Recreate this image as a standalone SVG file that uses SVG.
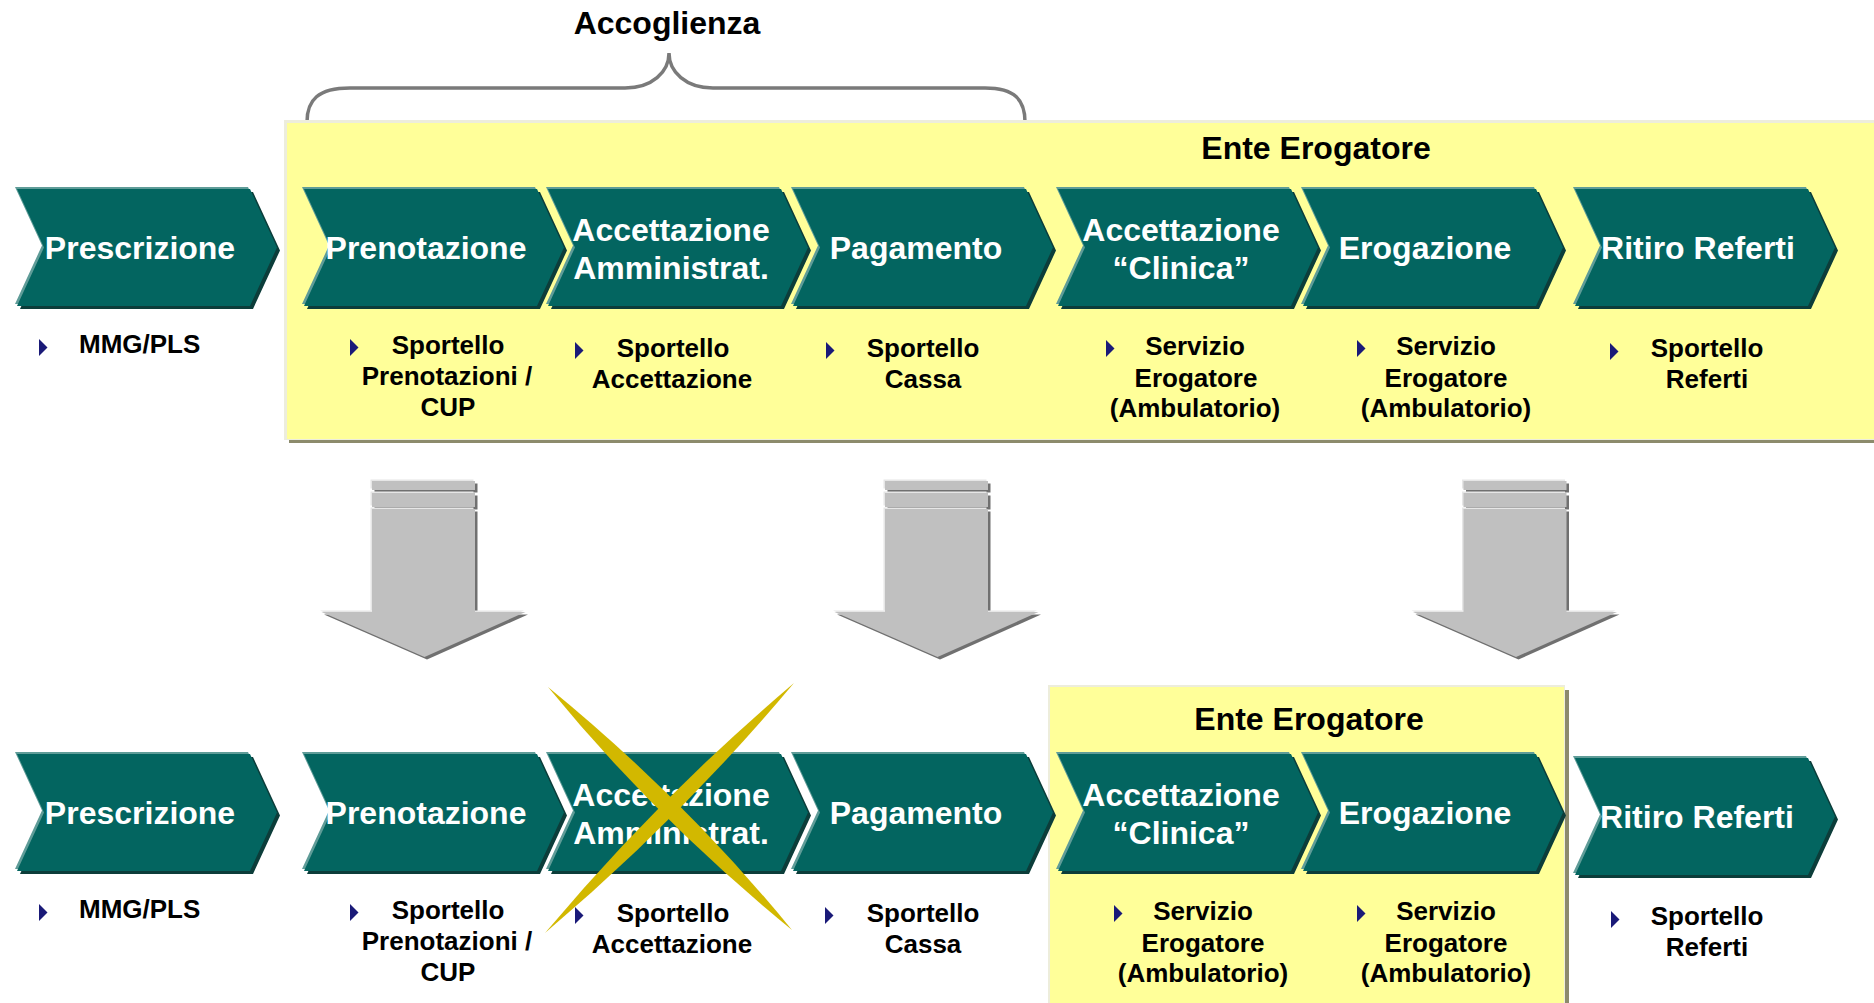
<svg xmlns="http://www.w3.org/2000/svg" xmlns:xlink="http://www.w3.org/1999/xlink" width="1874" height="1003" viewBox="0 0 1874 1003">
<style>
.h{font-family:"Liberation Sans",Arial,sans-serif;font-weight:bold;font-size:32px;fill:#000;text-anchor:middle}
.cl{font-family:"Liberation Sans",Arial,sans-serif;font-weight:bold;font-size:32px;fill:#fff;text-anchor:middle}
.sl{font-family:"Liberation Sans",Arial,sans-serif;font-weight:bold;font-size:26px;fill:#000;text-anchor:middle}
.bul{fill:#1A1A78}
.ybox{fill:#FFFF99}
.yedge{fill:#EDEDDC}
.yshadow{fill:#8C8B6C}
.brace{fill:none;stroke:#7A7A7A;stroke-width:3.5}
.xmark{fill:#D2B800}
</style>
<defs>
<path id="cp" d="M0,0 H233 L260,58.5 L233,117 H0 L27,58.5 Z"/>
<g id="chev">
<use xlink:href="#cp" href="#cp" x="3" y="3" fill="#0C3D3A"/>
<use xlink:href="#cp" href="#cp" x="-2" y="-2" fill="#5F9C98"/>
<use xlink:href="#cp" href="#cp" fill="#036560"/>
</g>
<polygon id="bt" points="0,-15 8.5,-6.5 0,2"/>
<g id="ap">
<rect x="-51.5" y="0" width="103" height="9"/>
<rect x="-51.5" y="12" width="103" height="14"/>
<rect x="-51.5" y="28" width="103" height="103"/>
<polygon points="-102,131 102,131 1,176"/>
</g>
<g id="arr">
<use xlink:href="#ap" href="#ap" x="2.5" y="2.5" fill="#707070"/>
<use xlink:href="#ap" href="#ap" x="-1.5" y="-1.5" fill="#E6E6E6"/>
<use xlink:href="#ap" href="#ap" fill="#C0C0C0"/>
</g>
</defs>
<rect width="1874" height="1003" fill="#fff"/>

<g id="accoglienza">
<path class="brace" d="M307,122 C307,100 318,88 350,88 L625,88 C652,88 669,72 669,53 C669,72 686,88 713,88 L985,88 C1015,88 1025,100 1025,122"/>
<text class="h" x="667" y="34">Accoglienza</text>
</g>

<g id="ente-top">
<rect class="yshadow" x="289" y="124" width="1590" height="319"/>
<rect class="yedge" x="284" y="120" width="1590" height="320"/>
<rect class="ybox" x="287" y="123" width="1587" height="316"/>
<text class="h" x="1316" y="159">Ente Erogatore</text>
</g>

<g id="ente-bottom">
<rect class="yshadow" x="1053" y="690" width="516" height="320"/>
<rect class="yedge" x="1048" y="685" width="517" height="320"/>
<rect class="ybox" x="1050" y="687" width="514" height="320"/>
<text class="h" x="1309" y="730">Ente Erogatore</text>
</g>

<g id="t-prescrizione">
<use xlink:href="#chev" href="#chev" x="17" y="189"/>
<text class="cl" x="140" y="259">Prescrizione</text>
<use xlink:href="#bt" href="#bt" class="bul" x="39" y="354"/>
<text class="sl" x="79" y="353" style="text-anchor:start">MMG/PLS</text>
</g>
<g id="t-prenotazione">
<use xlink:href="#chev" href="#chev" x="304" y="189"/>
<text class="cl" x="426" y="259">Prenotazione</text>
<use xlink:href="#bt" href="#bt" class="bul" x="350" y="354"/>
<text class="sl" x="448" y="354">Sportello</text>
<text class="sl" x="447" y="385">Prenotazioni /</text>
<text class="sl" x="448" y="416">CUP</text>
</g>
<g id="t-accettazione-amm">
<use xlink:href="#chev" href="#chev" x="548" y="189"/>
<text class="cl" x="671" y="241">Accettazione</text>
<text class="cl" x="671" y="279">Amministrat.</text>
<use xlink:href="#bt" href="#bt" class="bul" x="575" y="357"/>
<text class="sl" x="673" y="357">Sportello</text>
<text class="sl" x="672" y="388">Accettazione</text>
</g>
<g id="t-pagamento">
<use xlink:href="#chev" href="#chev" x="793" y="189"/>
<text class="cl" x="916" y="259">Pagamento</text>
<use xlink:href="#bt" href="#bt" class="bul" x="826" y="357"/>
<text class="sl" x="923" y="357">Sportello</text>
<text class="sl" x="923" y="388">Cassa</text>
</g>
<g id="t-accettazione-clin">
<use xlink:href="#chev" href="#chev" x="1058" y="189"/>
<text class="cl" x="1181" y="241">Accettazione</text>
<text class="cl" x="1181" y="279">“Clinica”</text>
<use xlink:href="#bt" href="#bt" class="bul" x="1106" y="355"/>
<text class="sl" x="1195" y="355">Servizio</text>
<text class="sl" x="1196" y="387">Erogatore</text>
<text class="sl" x="1195" y="417">(Ambulatorio)</text>
</g>
<g id="t-erogazione">
<use xlink:href="#chev" href="#chev" x="1303" y="189"/>
<text class="cl" x="1425" y="259">Erogazione</text>
<use xlink:href="#bt" href="#bt" class="bul" x="1357" y="355"/>
<text class="sl" x="1446" y="355">Servizio</text>
<text class="sl" x="1446" y="387">Erogatore</text>
<text class="sl" x="1446" y="417">(Ambulatorio)</text>
</g>
<g id="t-ritiro">
<use xlink:href="#chev" href="#chev" x="1575" y="189"/>
<text class="cl" x="1698" y="259">Ritiro Referti</text>
<use xlink:href="#bt" href="#bt" class="bul" x="1610" y="358"/>
<text class="sl" x="1707" y="357">Sportello</text>
<text class="sl" x="1707" y="388">Referti</text>
</g>

<g id="connectors">
<use xlink:href="#arr" href="#arr" x="423.5" y="481"/>
<use xlink:href="#arr" href="#arr" x="936.5" y="481"/>
<use xlink:href="#arr" href="#arr" x="1515" y="481"/>
</g>

<g id="b-prescrizione">
<use xlink:href="#chev" href="#chev" x="17" y="754"/>
<text class="cl" x="140" y="824">Prescrizione</text>
<use xlink:href="#bt" href="#bt" class="bul" x="39" y="919"/>
<text class="sl" x="79" y="918" style="text-anchor:start">MMG/PLS</text>
</g>
<g id="b-prenotazione">
<use xlink:href="#chev" href="#chev" x="304" y="754"/>
<text class="cl" x="426" y="824">Prenotazione</text>
<use xlink:href="#bt" href="#bt" class="bul" x="350" y="919"/>
<text class="sl" x="448" y="919">Sportello</text>
<text class="sl" x="447" y="950">Prenotazioni /</text>
<text class="sl" x="448" y="981">CUP</text>
</g>
<g id="b-accettazione-amm">
<use xlink:href="#chev" href="#chev" x="548" y="754"/>
<text class="cl" x="671" y="806">Accettazione</text>
<text class="cl" x="671" y="844">Amministrat.</text>
<use xlink:href="#bt" href="#bt" class="bul" x="575" y="922"/>
<text class="sl" x="673" y="922">Sportello</text>
<text class="sl" x="672" y="953">Accettazione</text>
</g>
<g id="b-pagamento">
<use xlink:href="#chev" href="#chev" x="793" y="754"/>
<text class="cl" x="916" y="824">Pagamento</text>
<use xlink:href="#bt" href="#bt" class="bul" x="825" y="922"/>
<text class="sl" x="923" y="922">Sportello</text>
<text class="sl" x="923" y="953">Cassa</text>
</g>
<g id="b-accettazione-clin">
<use xlink:href="#chev" href="#chev" x="1058" y="754"/>
<text class="cl" x="1181" y="806">Accettazione</text>
<text class="cl" x="1181" y="844">“Clinica”</text>
<use xlink:href="#bt" href="#bt" class="bul" x="1114" y="920"/>
<text class="sl" x="1203" y="920">Servizio</text>
<text class="sl" x="1203" y="952">Erogatore</text>
<text class="sl" x="1203" y="982">(Ambulatorio)</text>
</g>
<g id="b-erogazione">
<use xlink:href="#chev" href="#chev" x="1303" y="754"/>
<text class="cl" x="1425" y="824">Erogazione</text>
<use xlink:href="#bt" href="#bt" class="bul" x="1357" y="920"/>
<text class="sl" x="1446" y="920">Servizio</text>
<text class="sl" x="1446" y="952">Erogatore</text>
<text class="sl" x="1446" y="982">(Ambulatorio)</text>
</g>
<g id="b-ritiro">
<use xlink:href="#chev" href="#chev" x="1575" y="758"/>
<text class="cl" x="1697" y="828">Ritiro Referti</text>
<use xlink:href="#bt" href="#bt" class="bul" x="1611" y="926"/>
<text class="sl" x="1707" y="925">Sportello</text>
<text class="sl" x="1707" y="956">Referti</text>
</g>

<g id="cross">
<path class="xmark" d="M548,687 Q655.3,818.3 792,930 Q684.7,798.7 548,687 Z"/>
<path class="xmark" d="M794,683 Q680.1,818.6 545,933 Q658.9,797.4 794,683 Z"/>
</g>
</svg>
